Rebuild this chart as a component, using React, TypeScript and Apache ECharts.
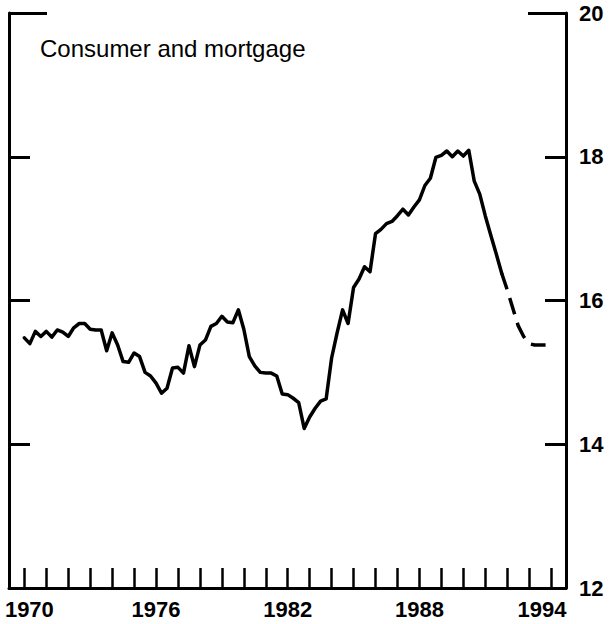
import React, { useEffect, useRef } from "react";
import * as echarts from "echarts";

// Quarterly data starting 1970Q1
const startYear = 1970;
const actual = [
  15.48, 15.40, 15.57, 15.50,
  15.57, 15.49, 15.59, 15.56,
  15.50, 15.62, 15.68, 15.68,
  15.60, 15.59, 15.59, 15.30,
  15.55, 15.38, 15.15, 15.14,
  15.27, 15.22, 15.00, 14.95,
  14.85, 14.71, 14.78, 15.06,
  15.07, 14.99, 15.37, 15.08,
  15.38, 15.45, 15.64, 15.68,
  15.78, 15.70, 15.69, 15.87,
  15.60, 15.22, 15.09, 15.00,
  14.99, 14.99, 14.95, 14.70,
  14.69, 14.64, 14.58, 14.22,
  14.38, 14.50, 14.60, 14.63,
  15.20, 15.55, 15.87, 15.68,
  16.18, 16.30, 16.47, 16.40,
  16.93, 16.99, 17.07, 17.10,
  17.18, 17.27, 17.19, 17.30,
  17.40, 17.60, 17.70, 17.99,
  18.02, 18.08, 18.00, 18.08,
  18.01, 18.09, 17.66, 17.48,
  17.18, 16.91, 16.65, 16.38,
];
// Projection (dashed) starts at the last actual quarter
const projected = [16.38, 16.15, 15.90, 15.65, 15.50, 15.40, 15.38, 15.38, 15.38];

const yTicks = [12, 14, 16, 18, 20];
const xTickYears = [
  1970, 1971, 1972, 1973, 1974, 1975, 1976, 1977, 1978, 1979, 1980, 1981, 1982,
  1983, 1984, 1985, 1986, 1987, 1988, 1989, 1990, 1991, 1992, 1993, 1994,
];
const xLabelYears = [1970, 1976, 1982, 1988, 1994];
const titleText = "Consumer and mortgage";

const FONT = "'Liberation Sans', Arial, Helvetica, sans-serif";

export default function App() {
  const ref = useRef<HTMLDivElement | null>(null);

  useEffect(() => {
    if (!ref.current) return;
    const chart = echarts.init(ref.current, null, { renderer: "svg" });

    const actualData = actual.map((v, i) => [startYear + i / 4, v]);
    const offset = actual.length - 1;
    const projData = projected.map((v, i) => [startYear + (offset + i) / 4, v]);

    const yMin = yTicks[0];
    const yMax = yTicks[yTicks.length - 1];

    const baseY = {
      type: "value",
      min: yMin,
      max: yMax,
      interval: 2,
      splitLine: { show: false },
    };

    const labelFont = { fontFamily: FONT, fontSize: 22, fontWeight: "bold", color: "#000" };

    chart.setOption({
      animation: false,
      backgroundColor: "#fff",
      title: {
        text: titleText,
        left: 35,
        top: 31,
        textStyle: {
          fontFamily: FONT,
          fontSize: 24,
          fontWeight: "normal",
          color: "#000",
        },
      },
      grid: {
        left: 9,
        right: 46,
        top: 13,
        bottom: 36,
        containLabel: false,
        outerBoundsMode: "none",
      },
      xAxis: {
        type: "value",
        min: 1969.3,
        max: 1994.68,
        splitLine: { show: false },
        axisLine: { show: true, onZero: false, lineStyle: { color: "#000", width: 3 } },
        axisTick: {
          show: true,
          inside: true,
          length: 20,
          customValues: xTickYears,
          lineStyle: { color: "#000", width: 2.5 },
        },
        axisLabel: {
          show: true,
          customValues: xLabelYears,
          margin: 10,
          ...labelFont,
          formatter: (v: number) =>
            v === xLabelYears[0]
              ? `{l|${v}}`
              : v === xLabelYears[xLabelYears.length - 1]
              ? `{r|${v}}`
              : `{n|${v}}`,
          rich: {
            l: { padding: [0, 0, 0, 10], ...labelFont },
            r: { padding: [0, 18, 0, 0], ...labelFont },
            n: { ...labelFont },
          },
        },
      },
      yAxis: [
        {
          ...baseY,
          position: "right",
          axisLine: { show: true, lineStyle: { color: "#000", width: 3 } },
          axisTick: { show: true, inside: true, length: 21, lineStyle: { color: "#000", width: 3 } },
          axisLabel: {
            show: true,
            margin: 13,
            ...labelFont,
          },
        },
        {
          ...baseY,
          position: "left",
          axisLine: { show: true, lineStyle: { color: "#000", width: 3 } },
          axisTick: { show: true, inside: true, length: 21, lineStyle: { color: "#000", width: 3 } },
          axisLabel: { show: false },
        },
        {
          ...baseY,
          position: "right",
          axisLine: { show: false },
          axisTick: {
            show: true,
            inside: true,
            length: 38,
            customValues: [yMax],
            lineStyle: { color: "#000", width: 3 },
          },
          axisLabel: { show: false },
        },
        {
          ...baseY,
          position: "left",
          axisLine: { show: false },
          axisTick: {
            show: true,
            inside: true,
            length: 38,
            customValues: [yMax],
            lineStyle: { color: "#000", width: 3 },
          },
          axisLabel: { show: false },
        },
      ],
      series: [
        {
          type: "line",
          name: "actual",
          xAxisIndex: 0,
          yAxisIndex: 0,
          data: actualData,
          showSymbol: false,
          symbol: "none",
          lineStyle: { color: "#000", width: 3.5, join: "round", cap: "round" },
        },
        {
          type: "line",
          name: "projected",
          xAxisIndex: 0,
          yAxisIndex: 0,
          data: projData,
          showSymbol: false,
          symbol: "none",
          lineStyle: { color: "#000", width: 3.5, type: [17, 9], join: "round" },
        },
      ],
    });

    return () => {
      chart.dispose();
    };
  }, []);

  return (
    <div
      ref={ref}
      style={{ position: "fixed", left: 0, top: 0, width: 612, height: 624, background: "#fff" }}
    />
  );
}
